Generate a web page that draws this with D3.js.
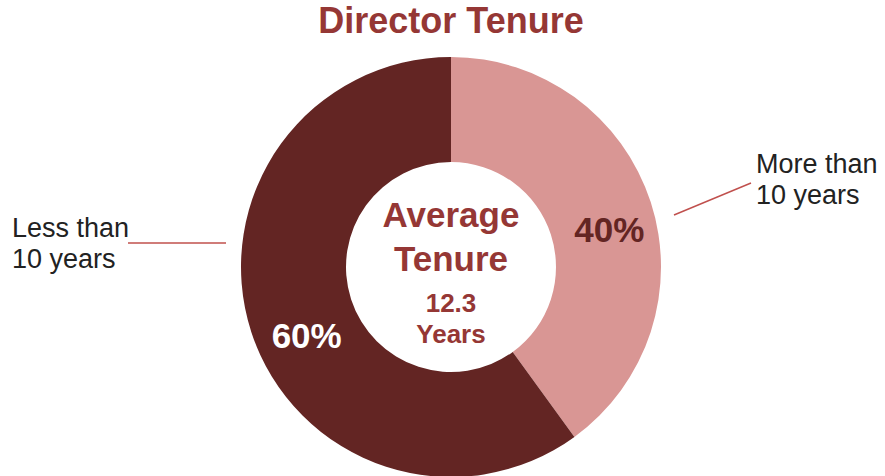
<!DOCTYPE html>
<html>
<head>
<meta charset="utf-8">
<script src="https://cdn.jsdelivr.net/npm/d3@7"></script>
<style>
  body { margin: 0; background: #fff; }
  text { font-family: "Liberation Sans", Arial, sans-serif; }
</style>
</head>
<body>
<div id="chart"></div>
<script>
// Data
const categories = ["More than 10 years", "Less than 10 years"];
const shares = [40, 60];
const sliceColors = ["#D99694", "#632523"];
const labelColors = ["#632523", "#FFFFFF"];
const centerLines = ["Average", "Tenure", "12.3", "Years"];

const width = 885, height = 476;
const cx = 451, cy = 267, outerR = 210, innerR = 105;

const svg = d3.select("#chart")
    .append("svg")
    .attr("width", width)
    .attr("height", height);

// Title
svg.append("text")
    .attr("x", cx)
    .attr("y", 33)
    .attr("text-anchor", "middle")
    .attr("font-size", 36)
    .attr("font-weight", "bold")
    .attr("fill", "#953735")
    .text("Director Tenure");

const pie = d3.pie().sort(null).value(d => d)(shares);
const arc = d3.arc().innerRadius(innerR).outerRadius(outerR);
const labelArc = d3.arc().innerRadius(157).outerRadius(157);

const g = svg.append("g").attr("transform", `translate(${cx},${cy})`);

g.selectAll("path")
    .data(pie)
    .join("path")
    .attr("d", arc)
    .attr("fill", (d, i) => sliceColors[i]);

// Percent labels (nudged from the arc centroid like the original)
const pctOffset = [[9, 24], [5, 32]];
g.selectAll(".pct")
    .data(pie)
    .join("text")
    .attr("class", "pct")
    .attr("transform", (d, i) => {
        const [x, y] = labelArc.centroid(d);
        return `translate(${x + pctOffset[i][0]},${y + pctOffset[i][1]})`;
    })
    .attr("text-anchor", "middle")
    .attr("font-size", 35)
    .attr("font-weight", "bold")
    .attr("fill", (d, i) => labelColors[i])
    .text(d => d.data + "%");

// Center text
const centerSizes = [35, 35, 26, 26];
const centerY = [-40, 4, 45, 76];
g.selectAll(".center")
    .data(centerLines)
    .join("text")
    .attr("class", "center")
    .attr("x", 0)
    .attr("y", (d, i) => centerY[i])
    .attr("text-anchor", "middle")
    .attr("font-size", (d, i) => centerSizes[i])
    .attr("font-weight", "bold")
    .attr("fill", "#953735")
    .text(d => d);

// Leader lines
svg.append("line")
    .attr("x1", 128).attr("y1", 243)
    .attr("x2", 226).attr("y2", 243)
    .attr("stroke", "#C0504D").attr("stroke-width", 1.5);
svg.append("line")
    .attr("x1", 674).attr("y1", 215)
    .attr("x2", 751).attr("y2", 183)
    .attr("stroke", "#C0504D").attr("stroke-width", 1.5);

// Category labels
const catLabels = [
    { lines: ["More than", "10 years"], x: 756, y: 173 },
    { lines: ["Less than", "10 years"], x: 12, y: 237 }
];
catLabels.forEach(c => {
    svg.append("text")
        .attr("x", c.x)
        .attr("y", c.y)
        .attr("font-size", 27)
        .attr("fill", "#222")
        .selectAll("tspan")
        .data(c.lines)
        .join("tspan")
        .attr("x", c.x)
        .attr("dy", (d, i) => i === 0 ? 0 : 31)
        .text(d => d);
});
</script>
</body>
</html>
